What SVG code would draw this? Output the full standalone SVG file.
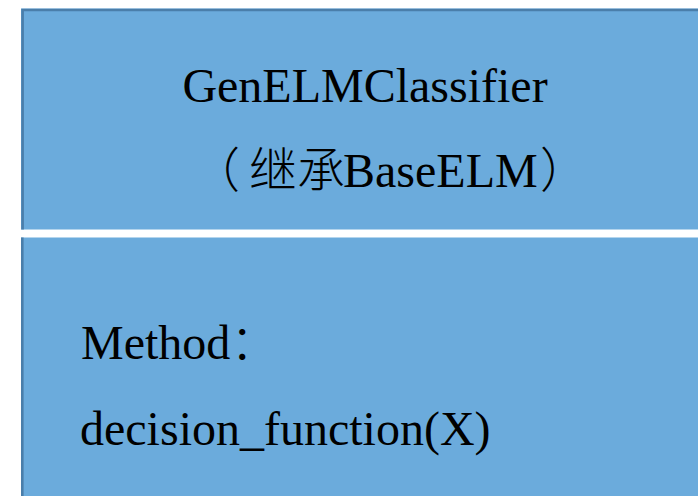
<svg xmlns="http://www.w3.org/2000/svg" width="698" height="496" viewBox="0 0 698 496">
  <style>
    .box { fill: #6BABDC; }
    .edge { stroke: #4A7EAA; stroke-width: 2.6; fill: none; }
    .t { font-family: "Liberation Serif", "Times New Roman", "Noto Sans CJK SC", serif; font-size: 48px; fill: #000; }
    .cjk { font-family: "Noto Sans CJK SC", sans-serif; font-weight: 300; }
  </style>
  <rect width="698" height="496" fill="#ffffff"/>
  <g id="class-header">
    <rect class="box" x="21" y="8.5" width="677" height="221"/>
    <path class="edge" d="M22.6,229.5 V10 H698"/>
    <text class="t" x="365" y="102" text-anchor="middle">GenELMClassifier</text>
    <text class="t" x="192" y="187"><tspan class="cjk">（</tspan><tspan class="cjk" x="249">继承</tspan><tspan x="343">BaseELM</tspan><tspan class="cjk" x="540">）</tspan></text>
  </g>
  <g id="class-methods">
    <rect class="box" x="21" y="237.5" width="677" height="258.5"/>
    <path class="edge" d="M22.3,237.5 V496"/>
    <text class="t" x="81" y="359">Method<tspan class="cjk">：</tspan></text>
    <text class="t" x="80" y="445">decision_function(X)</text>
  </g>
  <g id="connectors"/>
</svg>
